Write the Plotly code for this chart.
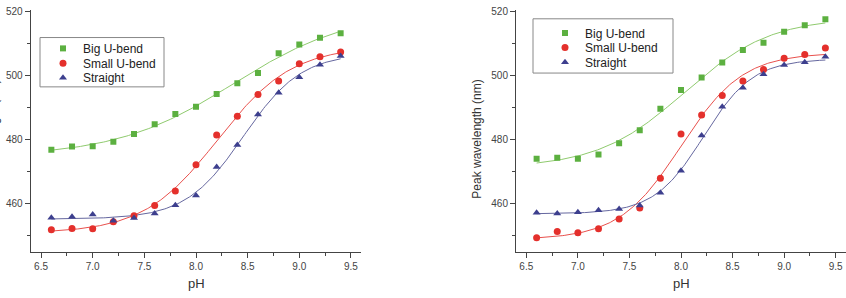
import numpy as np
import plotly.graph_objects as go

W, H = 846, 298

# ---------------- data ----------------
ph = [6.6, 6.8, 7.0, 7.2, 7.4, 7.6, 7.8, 8.0, 8.2, 8.4, 8.6, 8.8, 9.0, 9.2, 9.4]

left_big = [476.8, 477.8, 477.9, 479.3, 481.7, 484.7, 487.9, 490.2, 494.2, 497.5, 500.7, 506.9, 509.6, 511.7, 513.1]
left_small = [451.8, 452.2, 452.1, 454.3, 456.2, 459.4, 463.9, 472.1, 481.4, 487.2, 494.0, 498.2, 503.6, 505.8, 507.3]
left_straight = [455.6, 455.9, 456.6, 454.6, 455.5, 456.9, 459.5, 462.5, 471.4, 478.3, 487.8, 494.6, 499.4, 503.3, 506.0]

right_big = [474.0, 474.3, 474.0, 475.3, 478.8, 482.9, 489.6, 495.4, 499.3, 504.0, 507.9, 510.2, 513.6, 515.6, 517.5]
right_small = [449.3, 451.3, 450.9, 452.1, 455.2, 458.6, 467.9, 481.7, 487.6, 493.7, 498.2, 501.8, 505.3, 506.5, 508.5]
right_straight = [457.1, 456.9, 457.3, 457.9, 458.3, 459.4, 463.4, 470.2, 481.2, 490.2, 496.1, 500.3, 503.2, 504.1, 505.8]

names = ["Big U-bend", "Small U-bend", "Straight"]
x_ticks = [6.5, 7.0, 7.5, 8.0, 8.5, 9.0, 9.5]
y_ticks = [460, 480, 500, 520]

# ---------------- styles ----------------
marker_colors = ["#5cb040", "#e4302c", "#3d3f8e"]
line_colors = ["#8fca6e", "#e8504c", "#65679f"]
symbols = ["square", "circle", "triangle-up"]
sizes = [6, 7, 7]


def boltzmann_fit(x, y):
    """Least-squares Boltzmann sigmoid fit (grid search on x0, dx; linear on A1, A2)."""
    x = np.asarray(x, float)
    y = np.asarray(y, float)
    best = None
    for x0 in np.arange(7.0, 10.0, 0.01):
        for dx in np.arange(0.08, 1.2, 0.01):
            s = 1.0 / (1.0 + np.exp((x - x0) / dx))
            M = np.column_stack([s, 1 - s])
            coef, res, *_ = np.linalg.lstsq(M, y, rcond=None)
            r = np.sum((M @ coef - y) ** 2)
            if best is None or r < best[0]:
                best = (r, coef[0], coef[1], x0, dx)
    _, a1, a2, x0, dx = best
    xs = np.linspace(x.min(), x.max(), 200)
    ys = a2 + (a1 - a2) / (1 + np.exp((xs - x0) / dx))
    return xs, ys


def px(v):
    return v / W


def py(v):
    return 1 - v / H


fig = go.Figure()

panels = [
    ("x", "y", [left_big, left_small, left_straight], ["legend", "legend2", "legend3"]),
    ("x2", "y2", [right_big, right_small, right_straight], ["legend4", "legend5", "legend6"]),
]

for xa, ya, series, legs in panels:
    for i, vals in enumerate(series):
        xs, ys = boltzmann_fit(ph, vals)
        fig.add_trace(go.Scatter(x=xs, y=ys, mode="lines", xaxis=xa, yaxis=ya,
                                 line=dict(color=line_colors[i], width=1),
                                 showlegend=False, hoverinfo="skip"))
    for i, vals in enumerate(series):
        fig.add_trace(go.Scatter(x=ph, y=vals, mode="markers", xaxis=xa, yaxis=ya,
                                 name=names[i], legend=legs[i],
                                 marker=dict(color=marker_colors[i], symbol=symbols[i],
                                             size=sizes[i], line=dict(width=0))))

axis_common = dict(
    showline=True, linecolor="#444", linewidth=1, mirror=False,
    ticks="outside", ticklen=5, tickcolor="#444", tickwidth=1,
    showgrid=False, zeroline=False,
    tickfont=dict(family="Liberation Sans, Arial", size=10, color="#444"),
)

ydom = [py(251), py(5.7)]
fig.update_layout(
    width=W, height=H,
    margin=dict(l=0, r=0, t=0, b=0),
    paper_bgcolor="white", plot_bgcolor="white",
    font=dict(family="Liberation Sans, Arial", color="#333"),
    xaxis=dict(domain=[px(30.7), px(361.3)], range=[6.4, 9.6], tickvals=x_ticks,
               ticktext=[f"{v:.1f}" for v in x_ticks], anchor="y",
               minor=dict(dtick=0.25, tick0=6.5, ticks="outside", ticklen=3, tickcolor="#444"),
               **axis_common),
    yaxis=dict(domain=ydom, range=[445, 520.5], tickvals=y_ticks, anchor="x",
               minor=dict(dtick=10, tick0=450, ticks="outside", ticklen=3, tickcolor="#444"),
               **axis_common),
    xaxis2=dict(domain=[px(516.0), 1.0], range=[6.4, 9.6], tickvals=x_ticks,
                ticktext=[f"{v:.1f}" for v in x_ticks], anchor="y2",
                minor=dict(dtick=0.25, tick0=6.5, ticks="outside", ticklen=3, tickcolor="#444"),
                **axis_common),
    yaxis2=dict(domain=ydom, range=[445, 520.5], tickvals=y_ticks, anchor="x2",
                minor=dict(dtick=10, tick0=450, ticks="outside", ticklen=3, tickcolor="#444"),
                **axis_common),
)

# legends: one per entry so the row spacing matches
leg_font = dict(family="Liberation Sans, Arial", size=12, color="#222")
left_rows = [45, 60, 74.7]
right_rows = [29.3, 44, 59]
for k, (lx, rows) in enumerate([(63, left_rows), (565, right_rows)]):
    for j, ry in enumerate(rows):
        key = "legend" if (k == 0 and j == 0) else f"legend{k * 3 + j + 1}"
        fig.update_layout({key: dict(x=px(lx - 20), y=py(ry), xanchor="left", yanchor="middle",
                                     bgcolor="rgba(0,0,0,0)", borderwidth=0, font=leg_font,
                                     itemwidth=30, tracegroupgap=0,
                                     xref="paper", yref="paper")})

fig.add_shape(type="rect", xref="paper", yref="paper", x0=px(40), x1=px(164), y0=py(34), y1=py(84),
              line=dict(color="#888", width=1), fillcolor="rgba(0,0,0,0)")
fig.add_shape(type="rect", xref="paper", yref="paper", x0=px(533), x1=px(673), y0=py(15), y1=py(70),
              line=dict(color="#888", width=1), fillcolor="rgba(0,0,0,0)")

title_font = dict(family="Liberation Sans, Arial", size=13, color="#333")
fig.add_annotation(text="pH", x=px(196), y=py(283.5), xref="paper", yref="paper",
                   showarrow=False, font=title_font, xanchor="center", yanchor="middle")
fig.add_annotation(text="pH", x=px(681), y=py(283.5), xref="paper", yref="paper",
                   showarrow=False, font=title_font, xanchor="center", yanchor="middle")
ytitle_font = dict(family="Liberation Sans, Arial", size=12, color="#333")
fig.add_annotation(text="Peak wavelength (nm)", x=px(477.5), y=py(137), xref="paper", yref="paper",
                   showarrow=False, font=ytitle_font, textangle=-90,
                   xanchor="center", yanchor="middle")
# left panel's y title is cropped by the image edge in the reference
fig.add_annotation(text="Peak wavelength (nm)", x=px(-5.5), y=py(137), xref="paper", yref="paper",
                   showarrow=False, font=ytitle_font, textangle=-90,
                   xanchor="center", yanchor="middle")

fig.write_html("out.html")
